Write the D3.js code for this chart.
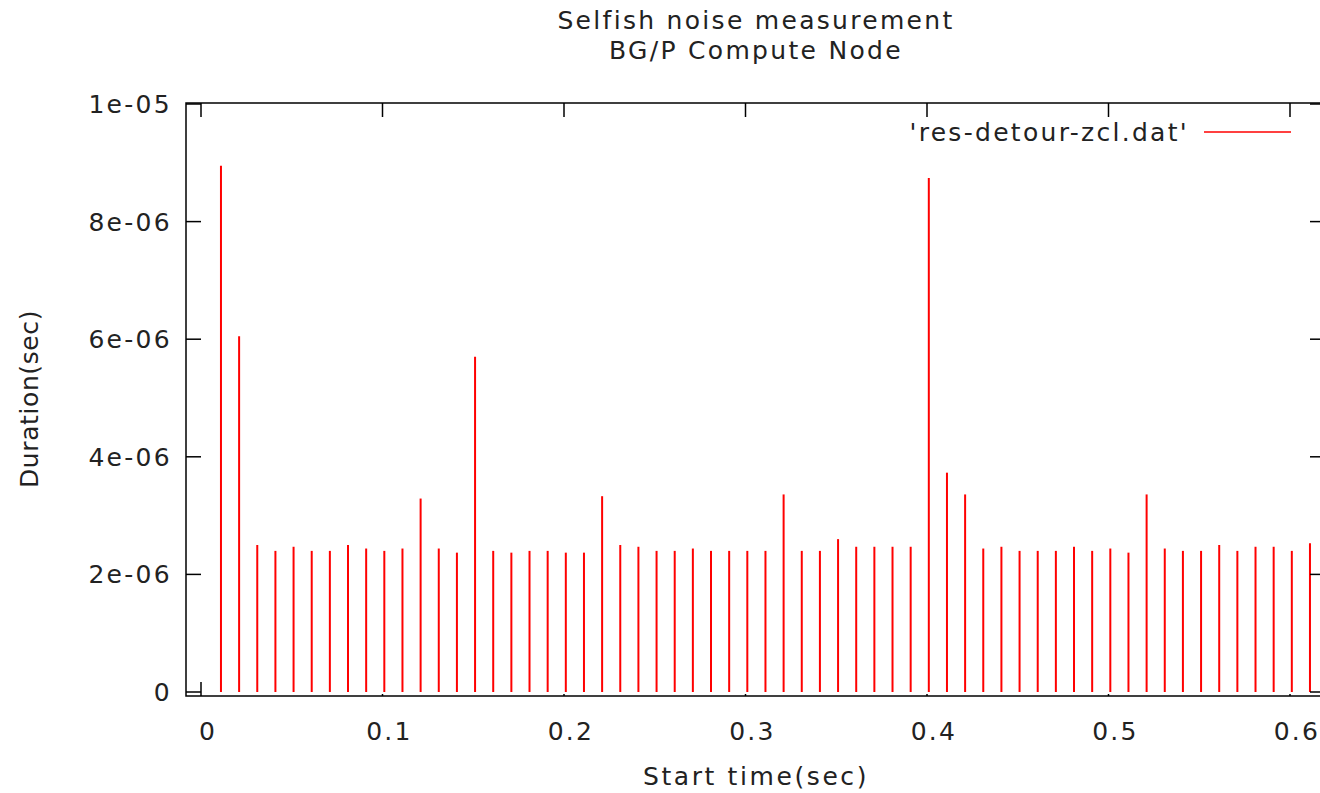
<!DOCTYPE html>
<html>
<head>
<meta charset="utf-8">
<script src="https://cdn.jsdelivr.net/npm/d3@7"></script>
<style>
    body { margin: 0; background: #fff; }
    svg { display: block; }
    text { font-family: "DejaVu Sans", sans-serif; fill: #222; }
</style>
</head>
<body>
<div id="chart"></div>
<script>
// start times (sec) of each detour
const startTimes = [
    0.011, 0.021, 0.031, 0.041, 0.051, 0.061, 0.071, 0.081, 0.091, 0.101,
    0.111, 0.121, 0.131, 0.141, 0.151, 0.161, 0.171, 0.181, 0.191, 0.201,
    0.211, 0.221, 0.231, 0.241, 0.251, 0.261, 0.271, 0.281, 0.291, 0.301,
    0.311, 0.321, 0.331, 0.341, 0.351, 0.361, 0.371, 0.381, 0.391, 0.401,
    0.411, 0.421, 0.431, 0.441, 0.451, 0.461, 0.471, 0.481, 0.491, 0.501,
    0.511, 0.521, 0.531, 0.541, 0.551, 0.561, 0.571, 0.581, 0.591, 0.601,
    0.611
];

// durations (in microseconds, scaled to sec below)
const durationsUs = [
    8.95, 6.05, 2.50, 2.40, 2.47, 2.40, 2.40, 2.50, 2.44, 2.40,
    2.44, 3.29, 2.44, 2.37, 5.70, 2.40, 2.37, 2.40, 2.40, 2.37,
    2.37, 3.33, 2.50, 2.47, 2.40, 2.40, 2.44, 2.40, 2.40, 2.40,
    2.40, 3.36, 2.40, 2.40, 2.60, 2.47, 2.47, 2.47, 2.47, 8.74,
    3.73, 3.36, 2.44, 2.47, 2.40, 2.40, 2.40, 2.47, 2.40, 2.44,
    2.37, 3.36, 2.44, 2.40, 2.40, 2.50, 2.40, 2.47, 2.47, 2.40,
    2.53
];

const xTicks = [0, 0.1, 0.2, 0.3, 0.4, 0.5, 0.6];
const yTicks = [0, 2e-6, 4e-6, 6e-6, 8e-6, 1e-5];
const yTickLabels = ["0", "2e-06", "4e-06", "6e-06", "8e-06", "1e-05"];

const titleLines = ["Selfish noise measurement", "BG/P Compute Node"];
const seriesName = "'res-detour-zcl.dat'";

const width = 1320;
const height = 793;
const frame = { left: 186, top: 103, right: 1326, bottom: 696 };
const fontSize = 25;
const spacing = "2.3px";

const data = startTimes.map((t, i) => ({ t: t, d: durationsUs[i] * 1e-6 }));

const x = d3.scaleLinear().domain([0, 0.6]).range([201, 1290]);
const y = d3.scaleLinear().domain([0, 1e-5]).range([692, 104]);

const svg = d3.select("#chart").append("svg")
    .attr("width", width)
    .attr("height", height);

// impulses
svg.append("g")
    .selectAll("line")
    .data(data)
    .enter().append("line")
    .attr("x1", d => x(d.t))
    .attr("x2", d => x(d.t))
    .attr("y1", y(0))
    .attr("y2", d => y(d.d))
    .attr("stroke", "#ff0000")
    .attr("stroke-width", 2);

// border
svg.append("rect")
    .attr("x", frame.left)
    .attr("y", frame.top)
    .attr("width", frame.right - frame.left)
    .attr("height", frame.bottom - frame.top)
    .attr("fill", "none")
    .attr("stroke", "#000")
    .attr("stroke-width", 1.5);

const ticks = svg.append("g").attr("stroke", "#000").attr("stroke-width", 1.5);

// y ticks, left and right (pointing inward)
yTicks.forEach(v => {
    ticks.append("line")
        .attr("x1", frame.left).attr("x2", frame.left + 15)
        .attr("y1", y(v)).attr("y2", y(v));
    ticks.append("line")
        .attr("x1", frame.right - 16).attr("x2", frame.right)
        .attr("y1", y(v)).attr("y2", y(v));
});

// x ticks, top and bottom
xTicks.forEach((v, i) => {
    ticks.append("line")
        .attr("x1", x(v)).attr("x2", x(v))
        .attr("y1", frame.top).attr("y2", frame.top + 14);
    ticks.append("line")
        .attr("x1", x(v)).attr("x2", x(v))
        .attr("y1", frame.bottom).attr("y2", frame.bottom - (i === 0 ? 14 : 2));
});

// tick labels
svg.append("g")
    .selectAll("text")
    .data(yTicks)
    .enter().append("text")
    .attr("x", 172)
    .attr("y", d => y(d) + 9)
    .attr("text-anchor", "end")
    .attr("font-size", fontSize)
    .attr("letter-spacing", spacing)
    .text((d, i) => yTickLabels[i]);

svg.append("g")
    .selectAll("text")
    .data(xTicks)
    .enter().append("text")
    .attr("x", d => x(d) + 7)
    .attr("y", 740)
    .attr("text-anchor", "middle")
    .attr("font-size", fontSize)
    .attr("letter-spacing", spacing)
    .text(d => d3.format("")(d));

// title
svg.append("g")
    .selectAll("text")
    .data(titleLines)
    .enter().append("text")
    .attr("x", 756)
    .attr("y", (d, i) => 29 + i * 30)
    .attr("text-anchor", "middle")
    .attr("font-size", fontSize)
    .attr("letter-spacing", spacing)
    .text(d => d);

// axis labels
svg.append("text")
    .attr("x", 756)
    .attr("y", 785)
    .attr("text-anchor", "middle")
    .attr("font-size", fontSize)
    .attr("letter-spacing", "2.6px")
    .text("Start time(sec)");

svg.append("text")
    .attr("transform", "translate(38,399) rotate(-90)")
    .attr("text-anchor", "middle")
    .attr("font-size", fontSize)
    .attr("letter-spacing", "0.6px")
    .text("Duration(sec)");

// legend
svg.append("text")
    .attr("x", 1189)
    .attr("y", 141)
    .attr("text-anchor", "end")
    .attr("font-size", fontSize)
    .attr("letter-spacing", spacing)
    .text(seriesName);

svg.append("line")
    .attr("x1", 1204).attr("x2", 1291)
    .attr("y1", 132).attr("y2", 132)
    .attr("stroke", "#ff0000")
    .attr("stroke-width", 1.6);
</script>
</body>
</html>
